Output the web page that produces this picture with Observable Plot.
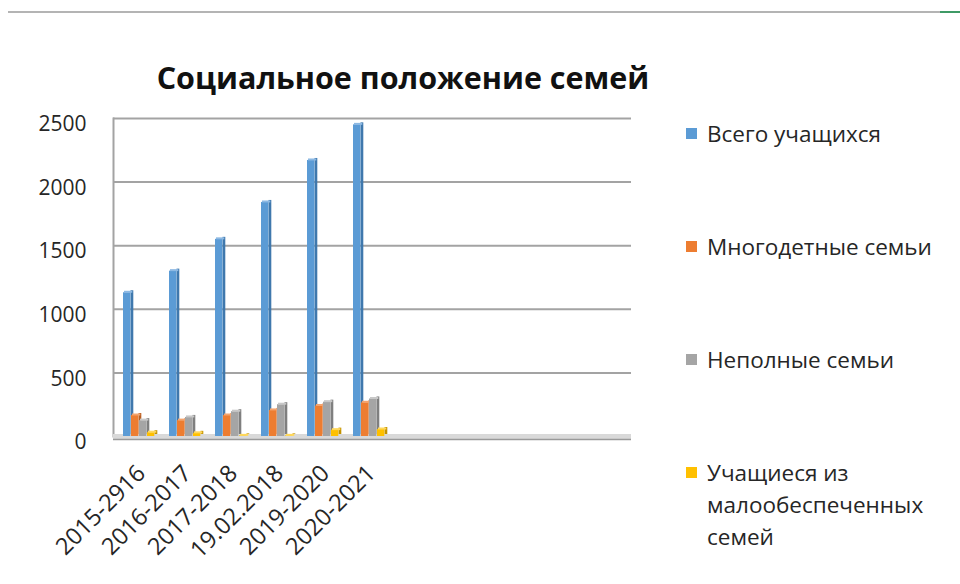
<!DOCTYPE html>
<html>
<head>
<meta charset="utf-8">
<script src="https://cdn.jsdelivr.net/npm/d3@7"></script>
<script src="https://cdn.jsdelivr.net/npm/@observablehq/plot@0.6"></script>
<style>
  html, body { margin: 0; padding: 0; background: #fff; }
  #wrap { position: relative; width: 960px; height: 584px; overflow: hidden; font-family: "Open Sans", sans-serif; }
  #chart { position: absolute; left: 0; top: 0; }
  #topline { position: absolute; left: 8px; top: 11px; width: 932px; height: 2px; background: #b4b4b4; }
  #topgreen { position: absolute; left: 940px; top: 11px; width: 20px; height: 2px; background: #3f9a66; }
  #title { position: absolute; left: 0; width: 806px; top: 56px; text-align: center; font-weight: 700; font-size: 30.5px; line-height: 42px; color: #111; }
  .leg { position: absolute; left: 686px; font-size: 22.5px; line-height: 32px; color: #262626; }
  .leg .sw { position: absolute; left: 0; top: 10px; width: 11px; height: 11px; }
  .leg .tx { position: absolute; left: 21px; top: 0; white-space: nowrap; }
</style>
</head>
<body>
<div id="wrap">
  <div id="topline"></div><div id="topgreen"></div>
  <div id="chart"></div>
  <div id="title"></div>
  <div id="legend"></div>
</div>
<script>
const title = "Социальное положение семей";
const categories = ["2015-2916", "2016-2017", "2017-2018", "19.02.2018", "2019-2020", "2020-2021"];
const seriesNames = ["Всего учащихся", "Многодетные семьи", "Неполные семьи", "Учащиеся из\nмалообеспеченных\nсемей"];
const totalStudents = [1130, 1300, 1550, 1840, 2170, 2450];
const largeFamilies = [165, 125, 165, 205, 240, 265];
const singleParent = [125, 150, 195, 250, 270, 295];
const lowIncome = [30, 25, 5, 5, 50, 55];
const yTicks = [0, 500, 1000, 1500, 2000, 2500];
const colors = ["#5B9BD5", "#ED7D31", "#A5A5A5", "#FFC000"];
const sideColors = ["#3F78AD", "#B85E22", "#7F7F7F", "#C29200"];
const topColors = ["#8DB9E3", "#F4A46E", "#C8C8C8", "#FFD85C"];

const seriesValues = [totalStudents, largeFamilies, singleParent, lowIncome];
const rows = categories.map((c, i) => ({cat: c, v0: totalStudents[i], v1: largeFamilies[i], v2: singleParent[i], v3: lowIncome[i]}));

const band = 46.2;
const x0 = 113;
const barMarks = [];
seriesValues.forEach((vals, k) => {
  const left = 9 + 8 * k;
  const frontW = 7.5;
  const sideW = 3;
  const key = "v" + k;
  barMarks.push(Plot.barY(rows, {x: "cat", y: key, fill: sideColors[k], insetLeft: left + frontW, insetRight: band - left - frontW - sideW, dy: -2}));
  barMarks.push(Plot.barY(rows, {x: "cat", y: key, fill: colors[k], insetLeft: left, insetRight: band - left - frontW}));
  barMarks.push(Plot.tickY(rows, {x: "cat", y: key, stroke: topColors[k], strokeWidth: 2, dy: -1, insetLeft: left + 1, insetRight: band - left - frontW - 2}));
});

const chart = Plot.plot({
  width: 960,
  height: 584,
  marginLeft: 113,
  marginRight: 329,
  marginTop: 118,
  marginBottom: 148,
  style: {fontFamily: "'Open Sans', sans-serif", color: "#262626", background: "transparent"},
  x: {type: "band", domain: categories, range: [x0, x0 + band * categories.length], padding: 0},
  y: {domain: [0, 2500]},
  marks: [
    Plot.gridY(yTicks, {stroke: "#a3a3a3", strokeOpacity: 1, strokeWidth: 2}),
    Plot.frame({anchor: "left", stroke: "#a3a3a3", strokeWidth: 2}),
    Plot.ruleY([0], {stroke: "#d9d9d9", strokeWidth: 5, dy: 0}),
    Plot.ruleY([0], {stroke: "#9a9a9a", strokeWidth: 1.5, dy: 3}),
    ...barMarks,
    Plot.axisY(yTicks, {tickSize: 0, tickPadding: 27, fontSize: 21, dy: 6, label: null, fill: "#262626", tickFormat: d => String(d)}),
    Plot.axisX({tickSize: 0, tickRotate: -45, tickPadding: 33, dx: 4, fontSize: 23.5, label: null, fill: "#262626"})
  ]
});
document.getElementById("chart").appendChild(chart);
document.getElementById("title").textContent = title;

const legendTops = [118, 231, 344, 457];
const legend = document.getElementById("legend");
seriesNames.forEach((name, k) => {
  const item = document.createElement("div");
  item.className = "leg";
  item.style.top = legendTops[k] + "px";
  const sw = document.createElement("div");
  sw.className = "sw";
  sw.style.background = colors[k];
  const tx = document.createElement("div");
  tx.className = "tx";
  tx.innerHTML = name.split("\n").join("<br>");
  item.appendChild(sw);
  item.appendChild(tx);
  legend.appendChild(item);
});
</script>
</body>
</html>
